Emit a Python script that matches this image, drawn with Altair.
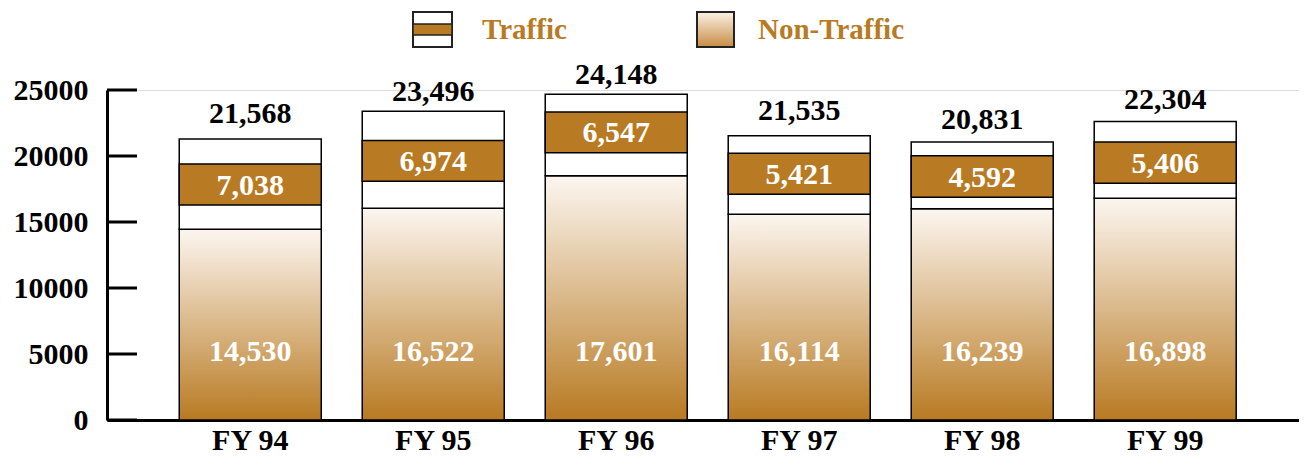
import altair as alt
import pandas as pd

# ---- data ----
years = ["FY 94", "FY 95", "FY 96", "FY 97", "FY 98", "FY 99"]
nontraffic_labels = [14530, 16522, 17601, 16114, 16239, 16898]
traffic_labels = [7038, 6974, 6547, 5421, 4592, 5406]
total_labels = [21568, 23496, 24148, 21535, 20831, 22304]
# drawn heights (as measured on the picture)
nontraffic_height = [14460, 16040, 18500, 15590, 16010, 16800]
total_height = [21280, 23390, 24680, 21530, 21070, 22610]
band_top = [19390, 21180, 23340, 20200, 20020, 21070]
band_bottom = [16290, 18080, 20240, 17100, 16870, 17930]
total_label_level = [23240, 24900, 26190, 23470, 22790, 24300]
y_ticks = [0, 5000, 10000, 15000, 20000, 25000]
nontraffic_label_level = 5200

BROWN = "#b87a22"
FONT = "Liberation Serif"

df = pd.DataFrame({
    "year": years,
    "non_lbl": nontraffic_labels,
    "tr_lbl": traffic_labels,
    "tot_lbl": total_labels,
    "non_h": nontraffic_height,
    "tot_h": total_height,
    "band_top": band_top,
    "band_bot": band_bottom,
    "tot_lvl": total_label_level,
})
df["band_mid"] = (df["band_top"] + df["band_bot"]) / 2
df["non_lvl"] = nontraffic_label_level

ticks_df = pd.DataFrame({"t": y_ticks})

xenc = alt.X(
    "year:N", sort=years, title=None,
    scale=alt.Scale(paddingInner=0.224, paddingOuter=0.369, align=0.535),
    axis=alt.Axis(ticks=False, labelAngle=0, labelPadding=5, labelFont=FONT,
                  labelFontSize=30, labelFontWeight="bold", labelColor="black",
                  domainColor="black", domainWidth=3),
)
yscale = alt.Scale(domain=[0, 25000], nice=False)
yaxis = alt.Axis(values=y_ticks, format="d", ticks=False, grid=False, labelPadding=19,
                 labelFont=FONT, labelFontSize=30, labelFontWeight="bold",
                 labelColor="black", domainColor="black", domainWidth=3,
                 title=None)

base = alt.Chart(df)

grad = alt.LinearGradient(
    gradient="linear",
    stops=[alt.GradientStop(color="#fcf6f0", offset=0),
           alt.GradientStop(color="#b87a22", offset=1)],
    x1=0, x2=0, y1=0, y2=1,
)

non_bars = base.mark_bar(fill=grad, stroke="black", strokeWidth=1.5).encode(
    x=xenc,
    y=alt.Y("non_h:Q", scale=yscale, axis=yaxis),
    y2=alt.datum(0),
)

tr_bars = base.mark_bar(fill="white", stroke="black", strokeWidth=1.5).encode(
    x=alt.X("year:N", sort=years),
    y="tot_h:Q",
    y2="non_h:Q",
)

band = base.mark_bar(fill=BROWN, stroke="black", strokeWidth=1.5).encode(
    x=alt.X("year:N", sort=years),
    y="band_top:Q",
    y2="band_bot:Q",
)

txt_style = dict(font=FONT, fontSize=30, fontWeight="bold")

tr_text = base.mark_text(color="white", baseline="middle", dy=1, **txt_style).encode(
    x=alt.X("year:N", sort=years),
    y="band_mid:Q",
    text=alt.Text("tr_lbl:Q", format=","),
)

non_text = base.mark_text(color="white", baseline="middle", dy=1, **txt_style).encode(
    x=alt.X("year:N", sort=years),
    y="non_lvl:Q",
    text=alt.Text("non_lbl:Q", format=","),
)

tot_text = base.mark_text(color="black", baseline="middle", dy=1, **txt_style).encode(
    x=alt.X("year:N", sort=years),
    y="tot_lvl:Q",
    text=alt.Text("tot_lbl:Q", format=","),
)

tick_rules = alt.Chart(ticks_df).mark_rule(color="black", strokeWidth=3).encode(
    y="t:Q",
    x=alt.value(0),
    x2=alt.value(30),
)

# ---- legend (drawn by hand) ----
leg = alt.Chart(pd.DataFrame({"k": [0]}))
leg_tr_box = leg.mark_rect(fill="white", stroke="#222", strokeWidth=2).encode(
    x=alt.value(306), x2=alt.value(345), y=alt.value(-78), y2=alt.value(-43))
leg_tr_band = leg.mark_rect(fill=BROWN, stroke="#222", strokeWidth=1.5).encode(
    x=alt.value(306), x2=alt.value(345), y=alt.value(-66), y2=alt.value(-55))
leg_grad = alt.LinearGradient(
    gradient="linear",
    stops=[alt.GradientStop(color="#fbf1e6", offset=0),
           alt.GradientStop(color="#c88c45", offset=1)],
    x1=0, x2=0, y1=0, y2=1,
)
leg_non_box = leg.mark_rect(fill=leg_grad, stroke="#222", strokeWidth=2).encode(
    x=alt.value(590), x2=alt.value(627), y=alt.value(-78), y2=alt.value(-43))
leg_tr_text = leg.mark_text(align="left", baseline="alphabetic", color=BROWN,
                            font=FONT, fontSize=29, fontWeight="bold",
                            text="Traffic").encode(x=alt.value(375), y=alt.value(-51))
leg_non_text = leg.mark_text(align="left", baseline="alphabetic", color=BROWN,
                             font=FONT, fontSize=29, fontWeight="bold",
                             text="Non-Traffic").encode(x=alt.value(651), y=alt.value(-51))

chart = alt.layer(
    non_bars, tr_bars, band, tr_text, non_text, tot_text, tick_rules,
    leg_tr_box, leg_tr_band, leg_non_box, leg_tr_text, leg_non_text,
).properties(
    width=1192, height=330,
    autosize=alt.AutoSizeParams(type="none"),
    padding={"left": 99, "top": 82, "right": 0, "bottom": 38},
).configure_view(stroke=None).configure(background="white")

chart.save("out.html", embed_options={"renderer": "svg", "actions": False})
